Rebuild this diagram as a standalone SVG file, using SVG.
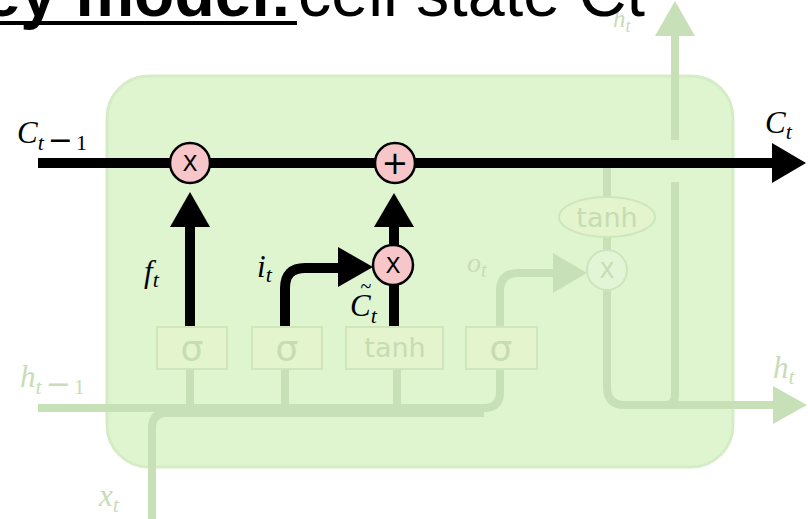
<svg xmlns="http://www.w3.org/2000/svg" width="808" height="519" viewBox="0 0 808 519">
  <style>
    .cell { fill: #dff5d0; stroke: #d4edc4; stroke-width: 3; }
    .fl { fill: none; stroke: #c8e0b8; stroke-width: 8; stroke-linecap: butt; }
    .fa { fill: #c8e0b8; stroke: none; }
    .bl { fill: none; stroke: #000; stroke-width: 10; }
    .ba { fill: #000; stroke: none; }
    .gate { fill: #e4f4cd; stroke: #cfe6bd; stroke-width: 2; }
    .gt { fill: #c6dcb4; font-family: "DejaVu Sans", sans-serif; text-anchor: middle; }
    .op { fill: #f6c6c8; stroke: #000; stroke-width: 2.5; }
    .opf { fill: #e2f5d6; stroke: #cde5bd; stroke-width: 2; }
    .ot { font-family: "DejaVu Sans", sans-serif; font-size: 22px; text-anchor: middle; }
    .ot.plus { font-size: 32px; }
    .m { font-family: "Liberation Serif", serif; font-style: italic; font-size: 31px; fill: #000; }
    .mf { font-family: "Liberation Serif", serif; font-style: italic; font-size: 31px; fill: #c8dcb8; }
    .mn { font-family: "DejaVu Sans", sans-serif; font-style: normal; }
    .title { font-family: "Liberation Sans", Arial, sans-serif; font-size: 66px; fill: #000; }
  </style>

  <rect id="cell" class="cell" x="107" y="76" width="626" height="391" rx="42"/>

  <g id="connectors">
    <path class="fl" d="M38,408 H484 Q500,408 500,392 V367"/>
    <path class="fl" d="M152,519 V428 Q152,413 167,413 H484"/>
    <path class="fl" d="M190,367 V408 M285,367 V408 M397,367 V408"/>
    <path class="fl" d="M500,327 V291 Q500,273 518,273 H556"/>
    <polygon class="fa" points="553,253 587,273 553,293"/>
    <path class="fl" d="M607,160 V197 M607,237 V251"/>
    <path class="fl" d="M607,290 V387 Q607,405 625,405 H776"/>
    <polygon class="fa" points="773,386 807,405 773,424"/>
    <path class="fl" d="M675,395 Q675,405 665,405 M675,395 V182"/>
    <path class="fl" d="M675,140 V33"/>
    <polygon class="fa" points="655,36 675,1 695,36"/>

    <path class="bl" d="M38,163 H775"/>
    <polygon class="ba" points="772,143 806,163 772,183"/>
    <path class="bl" d="M190,327 V224"/>
    <polygon class="ba" points="170,227 190,192 210,227"/>
    <path class="bl" d="M285,327 V288 Q285,268 305,268 H341"/>
    <polygon class="ba" points="338,247 373,267 338,287"/>
    <path class="bl" d="M394,327 V284"/>
    <path class="bl" d="M394,246 V224"/>
    <polygon class="ba" points="374,227 394,193 414,227"/>
  </g>

  <g id="gate-f"><rect class="gate" x="157" y="327" width="70" height="42"/><text class="gt" x="192" y="361" font-size="36">σ</text></g>
  <g id="gate-i"><rect class="gate" x="252" y="327" width="70" height="42"/><text class="gt" x="287" y="361" font-size="36">σ</text></g>
  <g id="gate-tanh"><rect class="gate" x="346" y="327" width="97" height="42"/><text class="gt" x="395" y="357" font-size="27">tanh</text></g>
  <g id="gate-o"><rect class="gate" x="466" y="327" width="71" height="42"/><text class="gt" x="501" y="361" font-size="36">σ</text></g>
  <g id="tanh-out"><ellipse class="gate" cx="607" cy="217" rx="48" ry="20"/><text class="gt" x="607" y="227" font-size="27">tanh</text></g>
  <g id="mul-out"><circle class="opf" cx="607" cy="270" r="20"/><text class="ot" x="607" y="278" fill="#c6dcb4">X</text></g>

  <g id="mul-forget"><circle class="op" cx="190" cy="163" r="20"/><text class="ot" x="190" y="171">X</text></g>
  <g id="add-cell"><circle class="op" cx="395" cy="163" r="20"/><text class="ot plus" x="395" y="174">+</text></g>
  <g id="mul-input"><circle class="op" cx="393" cy="265" r="20"/><text class="ot" x="393" y="273">X</text></g>

  <g id="labels">
    <text class="m" x="17" y="143">C<tspan dy="7" font-size="22">t</tspan><tspan class="mn" dx="4" font-size="30">−</tspan><tspan font-style="normal" dx="3" font-size="22">1</tspan></text>
    <text class="m" x="765" y="133">C<tspan dy="6" font-size="22">t</tspan></text>
    <text class="m" x="144" y="282">f<tspan dy="5" font-size="22">t</tspan></text>
    <text class="m" x="257" y="277">i<tspan dy="5" font-size="22">t</tspan></text>
    <text class="m" x="350" y="316">C<tspan dy="7" font-size="22">t</tspan></text>
    <text class="m" x="366" y="293" style="font-size:20px;font-style:normal" text-anchor="middle">~</text>
    <text class="mf" x="467" y="272" style="font-size:28px">o<tspan dy="5" font-size="20">t</tspan></text>
    <text class="mf" x="20" y="387">h<tspan dy="7" font-size="22">t</tspan><tspan class="mn" dx="4" font-size="30">−</tspan><tspan font-style="normal" dx="3" font-size="22">1</tspan></text>
    <text class="mf" x="773" y="378">h<tspan dy="6" font-size="22">t</tspan></text>
    <text class="mf" x="99" y="506">x<tspan dy="6" font-size="22">t</tspan></text>
    <text class="mf" x="613" y="27" style="font-size:25px">h<tspan dy="5" font-size="18">t</tspan></text>
  </g>

  <g id="title">
    <text class="title" x="-64" y="16" font-weight="bold">Key model:</text>
    <rect x="0" y="21" width="297" height="4" fill="#000"/>
    <text class="title" x="298" y="16" textLength="347" lengthAdjust="spacingAndGlyphs">cell state Ct</text>
  </g>
</svg>
